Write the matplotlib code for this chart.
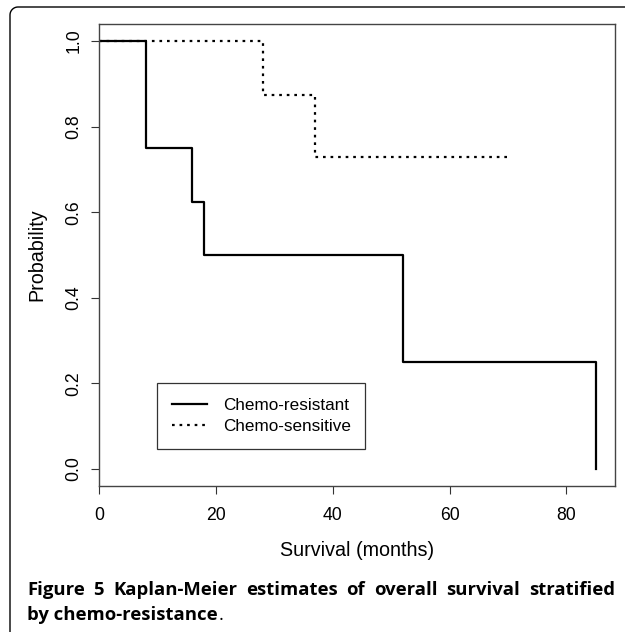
import matplotlib.pyplot as plt
import numpy as np
from matplotlib.lines import Line2D
from matplotlib.transforms import IdentityTransform

plt.rcParams['font.family'] = ['Liberation Sans', 'DejaVu Sans']

# Kaplan-Meier step data (months, survival probability)
resistant_t = [0, 8, 16, 18, 52, 85, 85]
resistant_s = [1.0, 0.75, 0.625, 0.5, 0.25, 0.25, 0.0]
sensitive_t = [0, 28, 37, 70]
sensitive_s = [1.0, 0.875, 0.729, 0.729]

xticks = [0, 20, 40, 60, 80]
yticks = [0.0, 0.2, 0.4, 0.6, 0.8, 1.0]

W, H = 625, 632
fig = plt.figure(figsize=(W / 100, H / 100), dpi=100)
ax = fig.add_axes([99 / W, 1 - 486 / H, 516 / W, 462 / H])

ax.step(resistant_t, resistant_s, where='post', color='black', lw=1.6,
        label='Chemo-resistant')
ax.step(sensitive_t, sensitive_s, where='post', color='black', lw=1.6,
        linestyle=(0, (1.2, 2.2)), label='Chemo-sensitive')

ax.set_xlim(0, 88.3)
ax.set_ylim(-0.04, 1.04)
ax.set_xticks(xticks)
ax.set_yticks(yticks)
ax.set_xticklabels([str(v) for v in xticks], fontsize=12.7)
ax.set_yticklabels([f'{v:.1f}' for v in yticks], fontsize=12.7,
                   rotation=90, va='center')
ax.tick_params(direction='out', length=6, width=0.8, color='#333333')
ax.tick_params(axis='x', pad=9)
ax.tick_params(axis='y', pad=6)
for s in ax.spines.values():
    s.set_linewidth(1.0)
    s.set_color('#444444')

ax.set_xlabel('Survival (months)', fontsize=14.2, labelpad=12)
ax.set_ylabel('Probability', fontsize=14.2, labelpad=14)

leg = ax.legend(loc='upper left', bbox_to_anchor=(58 / 516, (486 - 383) / 462),
                frameon=True, fancybox=False, fontsize=12.3, handlelength=2.1,
                handletextpad=0.9, borderpad=0.85, labelspacing=0.4,
                borderaxespad=0)
leg.get_frame().set_edgecolor('black')
leg.get_frame().set_linewidth(0.9)

# caption, first line justified between x=27 and x=615 px
cap_font = ['Open Sans', 'DejaVu Sans']
cap_size = 13.3
line1 = 'Figure 5 Kaplan-Meier estimates of overall survival stratified'
words = line1.split(' ')
fig.canvas.draw()
r = fig.canvas.get_renderer()
arts = [fig.text(0, 1 - 595 / H, w, fontsize=cap_size, fontweight='bold',
                 family=cap_font, va='baseline') for w in words]
widths = [a.get_window_extent(renderer=r).width for a in arts]
gap = (615 - 27 - sum(widths)) / (len(words) - 1)
x = 27
for a, w in zip(arts, widths):
    a.set_x(x / W)
    x += w + gap

t2 = fig.text(27 / W, 1 - 620 / H, 'by chemo-resistance',
              fontsize=cap_size, fontweight='bold', family=cap_font,
              va='baseline')
bb = t2.get_window_extent(renderer=r)
fig.text((bb.x1 + 1) / W, 1 - 620 / H, '.', fontsize=cap_size,
         family=cap_font, va='baseline')

# outer frame (top and left edges, rounded corner)
rad = 8
ang = np.linspace(np.pi, np.pi / 2, 12)
fx = np.concatenate([[10], 10 + rad + rad * np.cos(ang), [W]])
fy = np.concatenate([[0], H - 7 - rad + rad * np.sin(ang), [H - 7]])
fig.add_artist(Line2D(fx, fy, transform=IdentityTransform(), color='black',
                      lw=1.0))

fig.savefig('out.png', dpi=100)
